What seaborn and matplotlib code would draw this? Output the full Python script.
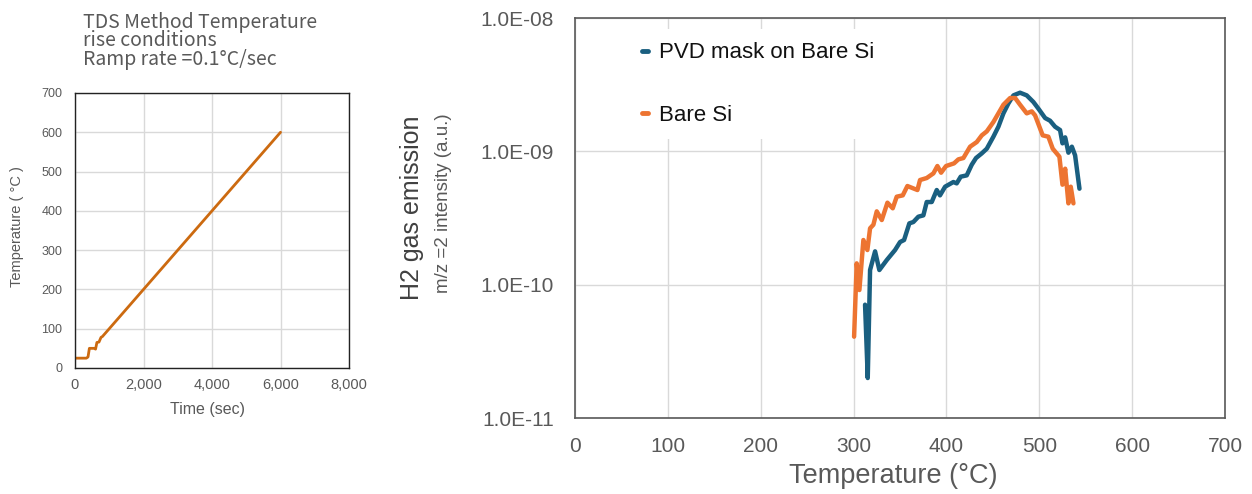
import numpy as np
import pandas as pd
import matplotlib
matplotlib.use("Agg")
import matplotlib.pyplot as plt
import seaborn as sns
from matplotlib.ticker import NullLocator, FuncFormatter

# ramp profile (left chart)
ramp_time = [0, 330, 380, 420, 560, 600, 640, 700, 760, 800, 6000]
ramp_temp = [25, 25, 28, 50, 50, 48, 65, 66, 78, 80, 600]

# TDS H2 spectra (right chart)
pvd_temp = [312.3, 315.2, 317.7, 323.1, 327.7, 335.7, 344.6, 350.0, 354.3, 360.0,
            364.3, 369.7, 375.1, 378.7, 384.1, 389.5, 393.0, 398.5, 407.4, 411.0,
            415.3, 421.8, 427.2, 431.8, 438.0, 443.4, 450.5, 455.9, 461.3, 466.7,
            472.1, 479.2, 486.4, 493.6, 499.0, 506.2, 511.5, 516.9, 522.3, 524.9,
            527.8, 531.3, 535.0, 538.5, 543.2]
pvd_log = [-10.15, -10.70, -9.89, -9.75, -9.89, -9.815, -9.74, -9.68, -9.665, -9.54,
           -9.53, -9.49, -9.48, -9.38, -9.38, -9.29, -9.33, -9.265, -9.23, -9.24,
           -9.19, -9.18, -9.10, -9.05, -9.015, -8.98, -8.89, -8.815, -8.715, -8.64,
           -8.58, -8.56, -8.58, -8.63, -8.68, -8.75, -8.77, -8.815, -8.84, -8.94,
           -8.895, -9.01, -8.965, -9.03, -9.28]

bare_temp = [300.5, 303.3, 306.2, 310.5, 314.8, 317.7, 321.3, 324.9, 330.3, 336.4,
             342.1, 346.4, 352.9, 357.9, 368.7, 371.5, 378.7, 385.9, 390.2, 394.2,
             399.5, 408.1, 412.8, 418.2, 425.4, 432.6, 438.0, 443.4, 450.5, 455.9,
             461.3, 468.5, 473.9, 479.2, 486.4, 491.8, 495.4, 503.6, 509.7, 514.4,
             521.6, 524.9, 527.8, 531.3, 533.8, 536.7]
bare_log = [-10.39, -9.84, -10.04, -9.665, -9.74, -9.577, -9.55, -9.45, -9.515, -9.385,
            -9.427, -9.34, -9.33, -9.26, -9.29, -9.215, -9.20, -9.165, -9.11, -9.16,
            -9.11, -9.09, -9.06, -9.05, -8.965, -8.93, -8.88, -8.85, -8.78, -8.715,
            -8.65, -8.60, -8.60, -8.65, -8.715, -8.70, -8.73, -8.88, -8.89, -8.98,
            -9.04, -9.25, -9.13, -9.39, -9.265, -9.39]

series_names = ["PVD mask on Bare Si", "Bare Si"]
series_colors = ["#1a5f80", "#ed7431"]

ytick_vals = [1e-11, 1e-10, 1e-09, 1e-08]
ytick_labels = ["1.0E-11", "1.0E-10", "1.0E-09", "1.0E-08"]

title_lines = ["TDS Method Temperature", "rise conditions", "Ramp rate =0.1°C/sec"]

sns.set_style("white")
plt.rcParams["font.family"] = ["Liberation Sans", "DejaVu Sans"]

fig = plt.figure(figsize=(12.52, 4.94), dpi=100)
gray = "#595959"
grid_c = "#d9d9d9"

# ---------------- left: ramp ----------------
ax1 = fig.add_axes([0.0599, 0.2551, 0.2189, 0.5567])
ramp = pd.DataFrame({"time": ramp_time, "temp": ramp_temp})
sns.lineplot(data=ramp, x="time", y="temp", ax=ax1, color="#cc6a10", lw=2, sort=False)
ax1.set_xlim(0, 8000)
ax1.set_ylim(0, 700)
ax1.set_xticks(range(0, 8001, 2000))
ax1.set_yticks(range(0, 701, 100))
ax1.xaxis.set_major_formatter(FuncFormatter(lambda v, p: f"{int(v):,}"))
ax1.grid(True, color=grid_c, lw=1)
ax1.set_axisbelow(True)
for s in ax1.spines.values():
    s.set_color("#222222")
    s.set_linewidth(1)
ax1.tick_params(axis="x", length=0, labelsize=10.5, colors=gray, pad=7)
ax1.tick_params(axis="y", length=0, labelsize=9, colors=gray, pad=9)
ax1.set_xlabel("")
ax1.set_ylabel("")
fig.text(207 / 1252, 1 - 409 / 494, "Time (sec)", fontsize=11.5, color=gray,
         ha="center", va="center")
fig.text(17 / 1252, 1 - 227 / 494, "Temperature ( °C )", rotation=90, fontsize=10.5,
         color=gray, ha="center", va="center")

fig.text(83 / 1252, 1 - 41 / 494, "\n".join(title_lines), fontsize=14, color=gray,
         family=["Noto Sans CJK JP", "DejaVu Sans"], ha="left", va="center",
         linespacing=0.85)

# ---------------- right: TDS ----------------
ax2 = fig.add_axes([0.4593, 0.1538, 0.5192, 0.8097])
tds = pd.concat([
    pd.DataFrame({"T": pvd_temp, "I": 10 ** np.array(pvd_log), "s": series_names[0]}),
    pd.DataFrame({"T": bare_temp, "I": 10 ** np.array(bare_log), "s": series_names[1]}),
])
sns.lineplot(data=tds, x="T", y="I", hue="s", palette=series_colors, ax=ax2,
             lw=3.2, sort=False, estimator=None)
ax2.set_yscale("log")
ax2.set_xlim(0, 700)
ax2.set_ylim(1e-11, 1e-8)
ax2.set_xticks(range(0, 701, 100))
ax2.set_yticks(ytick_vals)
ax2.set_yticklabels(ytick_labels)
ax2.yaxis.set_minor_locator(NullLocator())
ax2.grid(True, color=grid_c, lw=1)
ax2.set_axisbelow(True)
for s in ax2.spines.values():
    s.set_color(gray)
    s.set_linewidth(1.2)
ax2.tick_params(length=0, labelsize=15, colors=gray)
ax2.tick_params(axis="x", pad=14)
ax2.tick_params(axis="y", pad=15)
ax2.set_xlabel("")
ax2.set_ylabel("")
fig.text(893 / 1252, 1 - 476 / 494, "Temperature (°C)", fontsize=19.5, color=gray,
         ha="center", va="center")
fig.text(412 / 1252, 1 - 208 / 494, "H2 gas emission", rotation=90, fontsize=18,
         color="#404040", ha="center", va="center")
fig.text(443 / 1252, 1 - 203 / 494, "m/z =2 intensity (a.u.)", rotation=90, fontsize=13.5,
         color=gray, ha="center", va="center")

leg = ax2.legend(loc="upper left", bbox_to_anchor=(0.066, 1.0), handlelength=0.25,
                 handletextpad=0.5, labelspacing=1.85, fontsize=16, frameon=True,
                 borderpad=0.6)
leg.get_frame().set_facecolor("white")
leg.get_frame().set_edgecolor("none")
leg.get_frame().set_alpha(1)
for t in leg.get_texts():
    t.set_color("#111111")
for h in leg.legend_handles:
    h.set_linewidth(3.5)

fig.savefig("out.png", dpi=100)
